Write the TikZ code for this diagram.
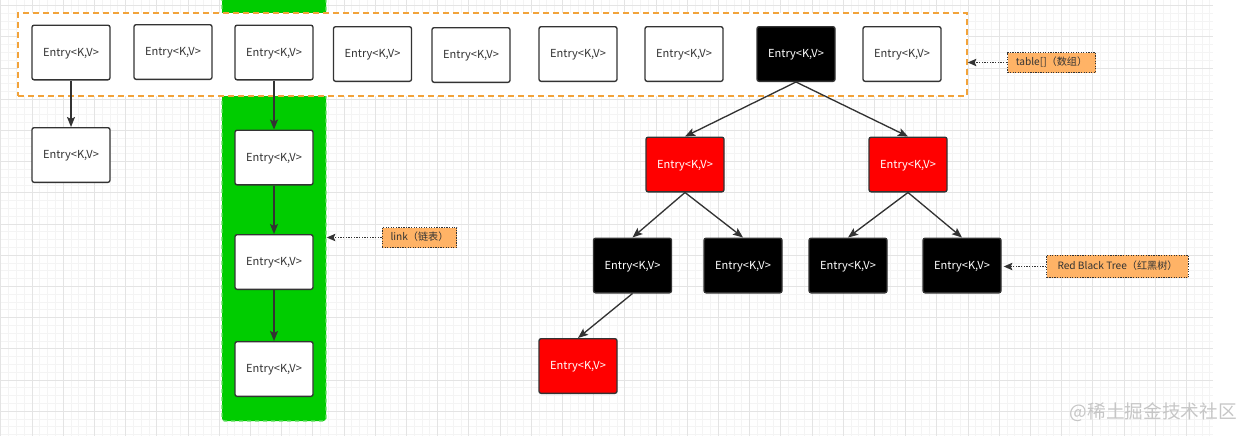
\documentclass[tikz,border=0pt]{standalone}
\usepackage{fontspec}
\setmainfont{Noto Sans CJK SC}
\usetikzlibrary{arrows.meta}
\definecolor{dk}{HTML}{333333}
\definecolor{gminor}{HTML}{F4F4F4}
\definecolor{gmajor}{HTML}{E4E4E4}
\definecolor{orng}{HTML}{F2A33A}
\definecolor{lblfill}{HTML}{FFB366}
\definecolor{grn}{HTML}{00CC00}
\definecolor{grnb}{HTML}{66E066}
\definecolor{rd}{HTML}{FF0000}
\begin{document}
\begin{tikzpicture}[x=0.75pt,y=-0.75pt,
  ebox/.style={draw=dk, line width=1pt, rounded corners=1.6pt, fill=white,
    minimum width=58.5pt, minimum height=41pt, inner sep=0pt, text=dk,
    text height=5.9pt, text depth=0.3pt,
    font=\fontsize{8.3}{9}\selectfont},
  blk/.style={ebox, fill=black, text=white},
  red/.style={ebox, fill=rd, text=white},
  lbl/.style={draw=dk, densely dotted, line width=0.9pt, fill=lblfill, text=dk,
    inner sep=0pt, text height=5.5pt, text depth=0.5pt, font=\fontsize{7.6}{9}\selectfont},
  conn/.style={draw=dk, line width=1pt, -{Stealth[length=7.5pt,width=6pt,inset=1.5pt]}},
  lconn/.style={draw=dk, line width=1pt, densely dotted, -{Stealth[length=6.5pt,width=5.5pt,inset=1.2pt]}}]
\useasboundingbox (0,0) rectangle (1245,436);
\clip (0,0) rectangle (1245,436);
% grid
\foreach \i in {0,...,155} {\draw[gminor, line width=0.5pt] ({0.8+7.8*\i},0) -- ({0.8+7.8*\i},436);}
\foreach \i in {0,...,56} {\draw[gminor, line width=0.5pt] (0,{-2.3+7.8*\i}) -- (1213,{-2.3+7.8*\i});}
\foreach \i in {0,...,38} {\draw[gmajor, line width=0.6pt] ({0.8+31.2*\i},0) -- ({0.8+31.2*\i},436);}
\foreach \i in {0,...,14} {\draw[gmajor, line width=0.6pt] (0,{5.5+31.2*\i}) -- (1213,{5.5+31.2*\i});}
% green column
\node[draw=grnb, dashed, line width=1pt, fill=grn, rounded corners=2pt, inner sep=0pt,
  minimum width=78pt, minimum height=327pt] (green) at (274,203) {};
% table frame
\node[draw=orng, dashed, dash pattern=on 4.5pt off 3pt, line width=1pt, fill=white, inner sep=0pt,
  minimum width=711.75pt, minimum height=62.25pt] (tbl) at (492.5,54.5) {};
% top row
\node[ebox] (t1) at (71,52.5) {Entry<K,V>};
\node[ebox] (t2) at (173,52) {Entry<K,V>};
\node[ebox] (t3) at (274,52.5) {Entry<K,V>};
\node[ebox] (t4) at (372.5,54) {Entry<K,V>};
\node[ebox] (t5) at (471,55) {Entry<K,V>};
\node[ebox] (t6) at (578,54) {Entry<K,V>};
\node[ebox] (t7) at (684,54) {Entry<K,V>};
\node[blk] (t8) at (796,54) {Entry<K,V>};
\node[ebox] (t9) at (902,54) {Entry<K,V>};
% single child
\node[ebox] (c1) at (71,155) {Entry<K,V>};
% linked list
\node[ebox] (l1) at (274,157.5) {Entry<K,V>};
\node[ebox] (l2) at (274,262) {Entry<K,V>};
\node[ebox] (l3) at (274,369) {Entry<K,V>};
% tree
\node[red] (r1) at (685,164.5) {Entry<K,V>};
\node[red] (r2) at (908,164.5) {Entry<K,V>};
\node[blk] (k1) at (632.5,265.5) {Entry<K,V>};
\node[blk] (k2) at (743,265.5) {Entry<K,V>};
\node[blk] (k3) at (848,265.5) {Entry<K,V>};
\node[blk] (k4) at (962,265.5) {Entry<K,V>};
\node[red] (r3) at (578,366) {Entry<K,V>};
% labels
\node[lbl, minimum width=66pt, minimum height=15pt] (tl) at (1051.5,62.5) {table[]（数组）};
\node[lbl, minimum width=56pt, minimum height=15pt] (ll) at (419.5,237.5) {link（链表）};
\node[lbl, minimum width=106pt, minimum height=17pt] (rl) at (1117.5,266.5) {Red Black Tree（红黑树）};
% connectors
\draw[conn] (t1.south) -- (c1.north);
\draw[conn] (t3.south) -- (l1.north);
\draw[conn] (l1.south) -- (l2.north);
\draw[conn] (l2.south) -- (l3.north);
\draw[conn] (t8.south) -- (r1.north);
\draw[conn] (t8.south) -- (r2.north);
\draw[conn] (r1.south) -- (k1.north);
\draw[conn] (r1.south) -- (k2.north);
\draw[conn] (r2.south) -- (k3.north);
\draw[conn] (r2.south) -- (k4.north);
\draw[conn] (k1.south) -- (r3.north);
\draw[lconn] (tl.west) -- (tl.west -| tbl.east);
\draw[lconn] (ll.west) -- (ll.west -| green.east);
\draw[lconn] (rl.west) -- ([xshift=1.5pt]rl.west -| k4.east);
% watermark
\node[text=gray!45, font=\fontsize{14}{15}\selectfont, anchor=east, inner sep=0pt] (wm) at (1237,412) {@稀土掘金技术社区};
\end{tikzpicture}
\end{document}
